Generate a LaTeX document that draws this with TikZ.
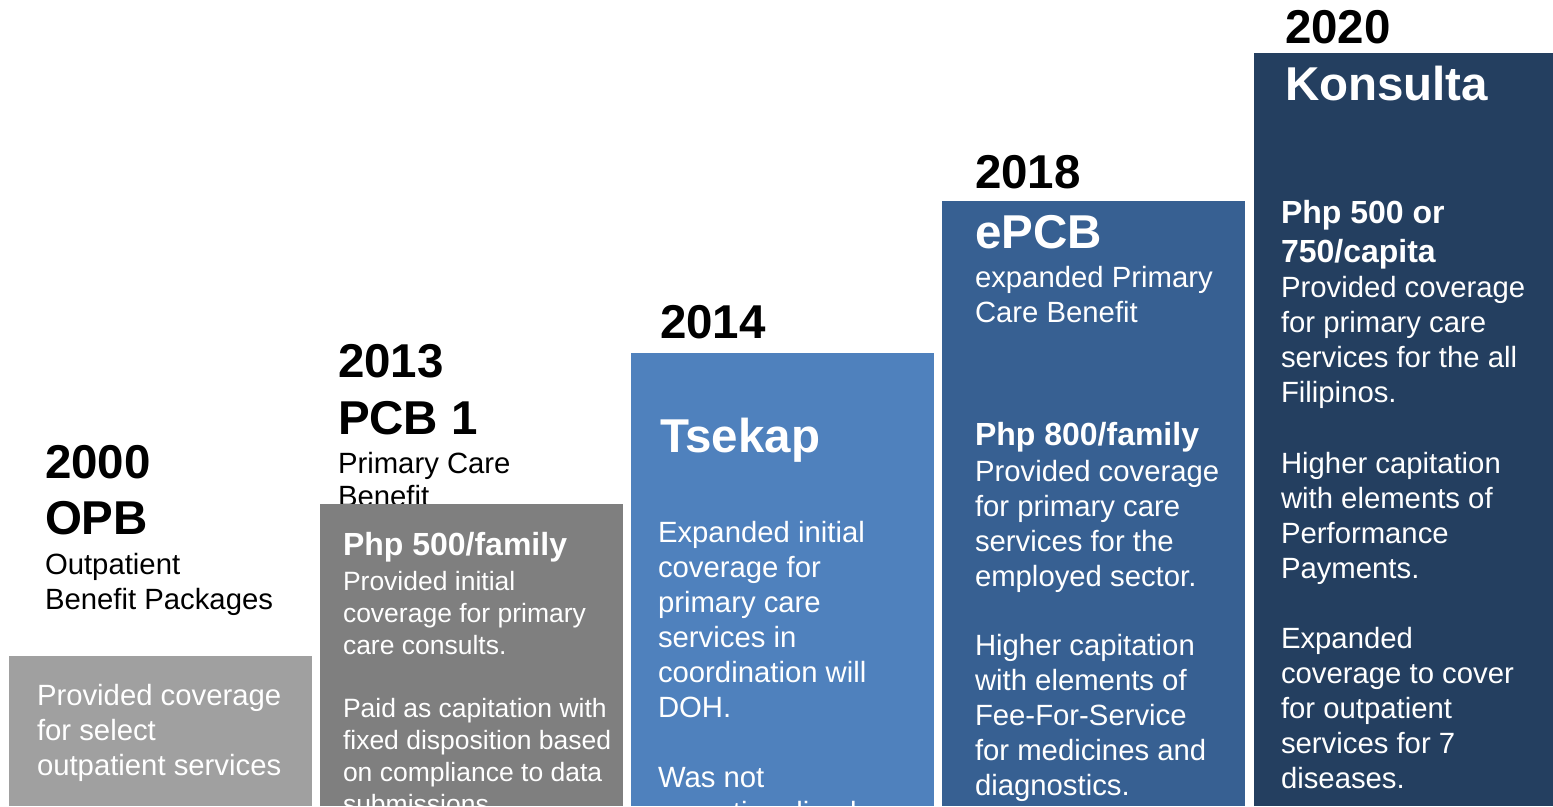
\documentclass[tikz,border=0pt]{standalone}
\usepackage{fontspec}
\setmainfont{Liberation Sans}
\definecolor{barA}{HTML}{A0A0A0}
\definecolor{barB}{HTML}{7F7F7F}
\definecolor{barC}{HTML}{4F81BD}
\definecolor{barD}{HTML}{376092}
\definecolor{barE}{HTML}{243F60}
\tikzset{
  txt/.style={anchor=base west, inner sep=0pt, outer sep=0pt, align=left},
  big/.style={txt, font=\fontsize{47.5}{57}\selectfont\bfseries},
  sub/.style={txt, font=\fontsize{32}{39}\selectfont\bfseries},
  body/.style={txt, font=\fontsize{29.3}{35}\selectfont},
  small/.style={txt, font=\fontsize{26.5}{32}\selectfont},
  intext/.style={text=white}
}
\begin{document}
% multi-line nodes are anchored at the baseline of their LAST line
\begin{tikzpicture}[x=1pt,y=-1pt]
\useasboundingbox (0,0) rectangle (1553,806);
\clip (0,0) rectangle (1553,806);
% headings above the bars
\node[big] (y2000) at (45,478) {2000};
\node[big] (opb) at (45,534) {OPB};
\node[body] (opbsub) at (45,609) {Outpatient\\Benefit Packages};
\node[big] (y2013) at (338,377) {2013};
\node[big] (pcb) at (338,434) {PCB 1};
\node[body,font=\fontsize{29.3}{33}\selectfont] (pcbsub) at (338,506) {Primary Care\\Benefit};
\node[big] (y2014) at (660,338) {2014};
\node[big] (y2018) at (975,188) {2018};
\node[big] (y2020) at (1285,43) {2020};
% bars
\fill[barA] (9,656) rectangle (312,806);
\fill[barB] (320,504) rectangle (623,806);
\fill[barC] (631,353) rectangle (934,806);
\fill[barD] (942,201) rectangle (1245,806);
\fill[barE] (1254,53) rectangle (1553,806);
% bar 1
\node[body,intext] (t1) at (37,775) {Provided coverage\\for select\\outpatient services};
% bar 2
\node[sub,intext] (h2) at (343,555) {Php 500/family};
\node[small,intext] (t2a) at (343,654) {Provided initial\\coverage for primary\\care consults.};
\node[small,intext] (t2b) at (343,813) {Paid as capitation with\\fixed disposition based\\on compliance to data\\submissions.};
% bar 3
\node[big,intext] (tsekap) at (660,452) {Tsekap};
\node[body,intext] (t3a) at (658,717) {Expanded initial\\coverage for\\primary care\\services in\\coordination will\\DOH.};
\node[body,intext] (t3b) at (658,822) {Was not\\operationalized};
% bar 4
\node[big,intext] (epcb) at (975,248) {ePCB};
\node[body,intext] (epcbsub) at (975,322) {expanded Primary\\Care Benefit};
\node[sub,intext] (h4) at (975,445) {Php 800/family};
\node[body,intext] (t4a) at (975,586) {Provided coverage\\for primary care\\services for the\\employed sector.};
\node[body,intext] (t4b) at (975,795) {Higher capitation\\with elements of\\Fee-For-Service\\for medicines and\\diagnostics.};
% bar 5
\node[big,intext] (konsulta) at (1285,100) {Konsulta};
\node[sub,intext] (h5) at (1281,262) {Php 500 or\\750/capita};
\node[body,intext] (t5a) at (1281,402) {Provided coverage\\for primary care\\services for the all\\Filipinos.};
\node[body,intext] (t5b) at (1281,578) {Higher capitation\\with elements of\\Performance\\Payments.};
\node[body,intext] (t5c) at (1281,788) {Expanded\\coverage to cover\\for outpatient\\services for 7\\diseases.};
\end{tikzpicture}
\end{document}
